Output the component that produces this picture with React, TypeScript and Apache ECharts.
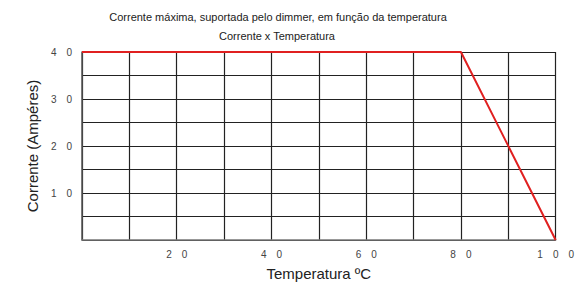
import React, { useEffect, useRef } from "react";
import * as echarts from "echarts";

const seriesName = "Corrente máxima";
const temperatures = [0, 80, 100];
const currents = [40, 40, 0];
const titleLine1 = "Corrente máxima, suportada pelo dimmer, em função da temperatura";
const titleLine2 = "Corrente x Temperatura";
const xName = "Temperatura ºC";
const yName = "Corrente (Ampéres)";

const spaced = (v: number) => String(v).split("").join("\u2003");

export default function App() {
  const ref = useRef<HTMLDivElement>(null);
  useEffect(() => {
    if (!ref.current) return;
    const chart = echarts.init(ref.current, undefined, { renderer: "svg" });
    const font = "Liberation Sans, Arial, sans-serif";
    chart.setOption({
      animation: false,
      backgroundColor: "#ffffff",
      title: [
        {
          text: titleLine1,
          left: 273,
          top: 6,
          textAlign: "center",
          textStyle: { fontSize: 11, fontWeight: "normal", color: "#222", fontFamily: font },
        },
        {
          text: titleLine2,
          left: 272,
          top: 25,
          textAlign: "center",
          textStyle: { fontSize: 11, fontWeight: "normal", color: "#222", fontFamily: font },
        },
      ],
      grid: { left: 82, right: 20, top: 52, bottom: 46 },
      xAxis: {
        type: "value",
        min: 0,
        max: 100,
        interval: 10,
        name: xName,
        nameLocation: "middle",
        nameGap: 26,
        nameTextStyle: { fontSize: 15, color: "#222", fontFamily: font },
        axisLine: { show: true, lineStyle: { color: "#777", width: 1.5 } },
        axisTick: { show: false },
        axisLabel: {
          fontSize: 10,
          color: "#444",
          fontFamily: font,
          margin: 9,
          formatter: (v: number) => (v % 20 === 0 && v !== 0 ? spaced(v) : ""),
        },
        splitLine: { show: true, lineStyle: { color: "#222", width: 1.2 } },
      },
      yAxis: {
        type: "value",
        min: 0,
        max: 40,
        interval: 5,
        name: yName,
        nameLocation: "middle",
        nameGap: 39,
        nameTextStyle: { fontSize: 15, color: "#222", fontFamily: font },
        axisLine: { show: true, lineStyle: { color: "#555", width: 1.5 } },
        axisTick: { show: false },
        axisLabel: {
          fontSize: 10,
          color: "#444",
          fontFamily: font,
          margin: 10,
          padding: [6, 0, 0, 0],
          formatter: (v: number) => (v % 10 === 0 && v !== 0 ? spaced(v) : ""),
        },
        splitLine: { show: true, lineStyle: { color: "#222", width: 1.2 } },
      },
      series: [
        {
          name: seriesName,
          type: "line",
          data: temperatures.map((t, i) => [t, currents[i]]),
          symbol: "none",
          lineStyle: { color: "#e02020", width: 2 },
          z: 5,
        },
      ],
    });
    return () => chart.dispose();
  }, []);
  return (
    <div
      ref={ref}
      style={{ position: "fixed", left: 0, top: 0, width: 577, height: 286 }}
    />
  );
}
